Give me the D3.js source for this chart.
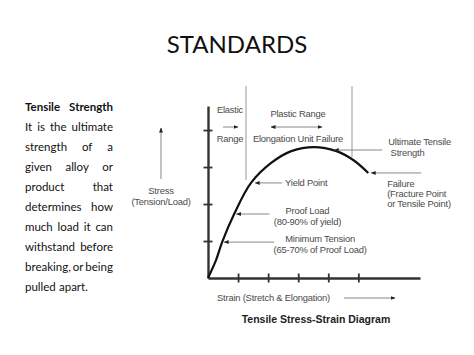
<!DOCTYPE html>
<html>
<head>
<meta charset="utf-8">
<script src="https://cdn.jsdelivr.net/npm/d3@7"></script>
<style>
  body { margin: 0; background: #fff; }
  svg { display: block; }
</style>
</head>
<body>
<svg id="chart"></svg>
<script>
// curve (strain units / stress units)
const strain = [0, 0.27, 0.47, 0.87, 1.43, 2.1, 2.77, 3.53, 4.27, 4.83, 5.33];
const stress = [0, 0.49, 0.97, 1.73, 2.57, 3.11, 3.43, 3.54, 3.43, 3.19, 2.84];
const xTicks = [1, 2, 3, 4, 5];
const yTicks = [1, 2, 3, 4];

const paragraph = [
  'Tensile Strength',
  'It is the ultimate',
  'strength of a',
  'given alloy or',
  'product that',
  'determines how',
  'much load it can',
  'withstand before',
  'breaking, or being',
  'pulled apart.'
];

// arrow tip on the curve (data units), label lines
const notes = [
  {tip: [1.5, 2.57], len: 27, lines: ['Yield Point'], anchor: 'start', dx: 3, dy: [0]},
  {tip: [0.88, 1.73], len: 33, lines: ['Proof Load', '(80-90% of yield)'], anchor: 'middle', dx: 38, dy: [-3, 8]},
  {tip: [0.47, 0.97], len: 50, lines: ['Minimum Tension', '(65-70% of Proof Load)'], anchor: 'middle', dx: 46, dy: [-3, 8]},
  {tip: [4.13, 3.46], len: 48, lines: ['Ultimate Tensile', ' Strength'], anchor: 'start', dx: 6, dy: [-8, 3]},
  {tip: [5.36, 2.84], len: 50, lines: ['Failure', '(Fracture Point', 'or Tensile Point)'], anchor: 'start', dx: -34, dy: [11, 21, 31]}
];

const W = 474, H = 355;
const svg = d3.select('#chart').attr('width', W).attr('height', H);

const textFont = 'Lato, "Open Sans", sans-serif';
const noteFont = '"Liberation Sans", Arial, sans-serif';
const noteColor = '#4a4a4a';

// title
svg.append('text')
  .attr('x', 237).attr('y', 53)
  .attr('text-anchor', 'middle')
  .style('font-family', textFont)
  .style('font-size', '24px')
  .style('fill', '#111')
  .text('STANDARDS');

// justified paragraph on the left
const paraLeft = 25, paraRight = 113;
paragraph.forEach((line, i) => {
  const words = line.split(' ');
  const y = 111 + i * 20;
  const g = svg.append('g');
  const nodes = words.map(w => g.append('text')
    .attr('y', y)
    .style('font-family', textFont)
    .style('font-size', '11.5px')
    .style('font-weight', i === 0 ? 'bold' : 'normal')
    .style('fill', '#111')
    .text(w));
  const widths = nodes.map(n => n.node().getComputedTextLength());
  const total = d3.sum(widths);
  const last = i === paragraph.length - 1;
  const gap = last ? 3.2 : (paraRight - paraLeft - total) / Math.max(1, words.length - 1);
  let x = paraLeft;
  nodes.forEach((n, k) => { n.attr('x', x); x += widths[k] + gap; });
});

// arrowheads
const defs = svg.append('defs');
defs.append('marker')
  .attr('id', 'head')
  .attr('viewBox', '0 0 10 10')
  .attr('refX', 9).attr('refY', 5)
  .attr('markerWidth', 5).attr('markerHeight', 5)
  .attr('markerUnits', 'userSpaceOnUse')
  .attr('orient', 'auto-start-reverse')
  .append('path')
  .attr('d', 'M0,1 L10,5 L0,9 Z')
  .attr('fill', '#222');

// scales
const x = d3.scaleLinear().domain([0, 7.05]).range([208, 420]);
const y = d3.scaleLinear().domain([0, 4.65]).range([278, 106]);

// range separators
const sep = svg.append('g').attr('stroke', '#999').attr('stroke-width', 1);
sep.append('line').attr('x1', 246).attr('x2', 246).attr('y1', 86).attr('y2', 180);
sep.append('line').attr('x1', 352).attr('x2', 352).attr('y1', 86).attr('y2', 157);

// axes
const xAxis = svg.append('g')
  .attr('transform', `translate(0, ${y(0)})`)
  .call(d3.axisBottom(x).tickValues(xTicks).tickSize(4).tickSizeOuter(0).tickFormat(''));
const yAxis = svg.append('g')
  .attr('transform', `translate(${x(0)}, 0)`)
  .call(d3.axisLeft(y).tickValues(yTicks).tickSize(4).tickSizeOuter(0).tickFormat(''));

[xAxis, yAxis].forEach(ax => {
  ax.select('.domain').attr('stroke', '#333').attr('stroke-width', 2.4);
  ax.selectAll('.tick line').attr('stroke', '#333').attr('stroke-width', 1.8);
});
xAxis.selectAll('.tick line').attr('y1', -4.5).attr('y2', 4.5);
yAxis.selectAll('.tick line').attr('x1', -4.5).attr('x2', 4.5);

// the curve
const pts = strain.map((s, i) => [s, stress[i]]);
svg.append('path')
  .datum(pts)
  .attr('fill', 'none')
  .attr('stroke', '#111')
  .attr('stroke-width', 2.2)
  .attr('d', d3.line().x(d => x(d[0])).y(d => y(d[1])).curve(d3.curveCatmullRom.alpha(0.5)));

// helpers
function label(g, xp, yp, str, opts = {}) {
  return g.append('text')
    .attr('x', xp).attr('y', yp)
    .attr('text-anchor', opts.anchor || 'start')
    .style('font-family', noteFont)
    .style('font-size', (opts.size || 9.4) + 'px')
    .style('font-weight', opts.bold ? 'bold' : 'normal')
    .style('letter-spacing', opts.ls || '-0.2px')
    .style('fill', opts.color || noteColor)
    .style('white-space', 'pre')
    .text(str);
}
function arrow(g, x1, y1, x2, y2, both) {
  const l = g.append('line')
    .attr('x1', x1).attr('y1', y1).attr('x2', x2).attr('y2', y2)
    .attr('stroke', '#888').attr('stroke-width', 1)
    .attr('marker-end', 'url(#head)');
  if (both) l.attr('marker-start', 'url(#head)');
}

const ann = svg.append('g');

// range headers
label(ann, 230, 113, 'Elastic', {anchor: 'middle'});
arrow(ann, 223, 127, 238, 127);
label(ann, 230, 142, 'Range', {anchor: 'middle'});
label(ann, 298, 117, 'Plastic Range', {anchor: 'middle'});
arrow(ann, 271, 127, 322, 127, true);
label(ann, 298, 142, 'Elongation Unit Failure', {anchor: 'middle'});

// stress axis label
arrow(ann, 161, 179, 161, 128);
label(ann, 161, 194, 'Stress', {anchor: 'middle'});
label(ann, 161, 205, '(Tension/Load)', {anchor: 'middle'});

// strain axis label
label(ann, 217, 301, 'Strain (Stretch & Elongation)');
arrow(ann, 344, 298, 395, 298);

// diagram caption
label(ann, 316, 323, 'Tensile Stress-Strain Diagram', {anchor: 'middle', bold: true, size: 10.5, color: '#222', ls: '0px'});

// callouts pointing at the curve
notes.forEach(n => {
  const tx = x(n.tip[0]) + 2, ty = y(n.tip[1]);
  const ex = tx + n.len;
  arrow(ann, ex, ty, tx, ty);
  n.lines.forEach((t, k) => label(ann, ex + n.dx, ty + n.dy[k] + 3, t, {anchor: n.anchor}));
});
</script>
</body>
</html>
